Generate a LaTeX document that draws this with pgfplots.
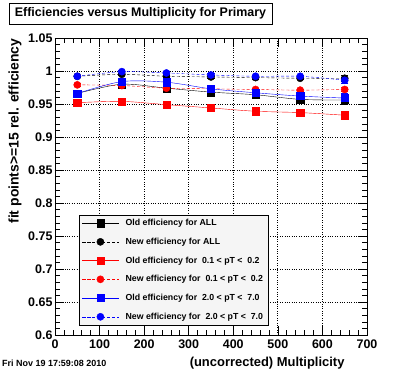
\documentclass[border=0pt]{standalone}
\usepackage{pgfplots}
\pgfplotsset{compat=1.18}
\usepackage{fontspec}
\setmainfont{Liberation Sans}
\begin{document}
\begin{tikzpicture}[x=1bp,y=1bp]
\path[use as bounding box,fill=white] (0,0) rectangle (396,372);
\begin{axis}[
  at={(55bp,37bp)}, anchor=south west,
  scale only axis, width=312bp, height=297bp,
  xmin=0, xmax=700, ymin=0.6, ymax=1.05,
  xtick={0,100,...,700}, ytick={0.6,0.65,...,1.06},
  minor x tick num=4, minor y tick num=4,
  yticklabels={0.6,0.65,0.7,0.75,0.8,0.85,0.9,0.95,1,1.05},
  tick align=inside, ticks=both,
  major tick length=9bp, minor tick length=5bp,
  xtick pos=both, ytick pos=both,
  grid=major, major grid style={black, dotted, line width=0.8pt},
  tick style={black, line width=0.6pt},
  axis line style={line width=0.8pt},
  /pgf/number format/assume math mode=true,
  tick label style={font=\fontsize{12.5}{13}\selectfont\bfseries},
  xticklabel style={yshift=-1bp},
  yticklabel style={xshift=1bp},
  legend cell align=left,
  legend style={at={(0.077,0.034)}, anchor=south west, draw=black, fill=gray!8,
    font=\fontsize{8.8}{9}\selectfont\bfseries, row sep=6.9bp, inner xsep=3bp, inner ysep=2bp,
    /tikz/every odd column/.append style={column sep=5bp}},
  legend image code/.code={\draw[mark repeat=2,mark phase=2] plot coordinates {(0bp,0bp)(18bp,0bp)(36bp,0bp)};},
]
\addplot[black, smooth, mark=square*, mark size=3.6bp, mark options={solid}, error bars/.cd, y dir=both, y explicit]
 coordinates {(50,0.966)+-(0,0.002) (150,0.980)+-(0,0.002) (250,0.974)+-(0,0.002) (350,0.968)+-(0,0.002) (450,0.964)+-(0,0.002) (550,0.957)+-(0,0.002) (650,0.956)+-(0,0.006)};
\addlegendentry{Old efficiency for ALL}
\addplot[black, densely dashed, smooth, mark=*, mark size=3.6bp, mark options={solid}, error bars/.cd, y dir=both, y explicit]
 coordinates {(50,0.992)+-(0,0.002) (150,0.995)+-(0,0.002) (250,0.992)+-(0,0.002) (350,0.991)+-(0,0.002) (450,0.990)+-(0,0.002) (550,0.989)+-(0,0.002) (650,0.989)+-(0,0.005)};
\addlegendentry{New efficiency for ALL}
\addplot[red, smooth, mark=square*, mark size=3.6bp, mark options={solid}, error bars/.cd, y dir=both, y explicit]
 coordinates {(50,0.952)+-(0,0.002) (150,0.954)+-(0,0.002) (250,0.949)+-(0,0.002) (350,0.944)+-(0,0.002) (450,0.939)+-(0,0.002) (550,0.937)+-(0,0.002) (650,0.933)+-(0,0.004)};
\addlegendentry{Old efficiency for \ 0.1 < pT < \ 0.2}
\addplot[red, densely dashed, smooth, mark=*, mark size=3.6bp, mark options={solid}, error bars/.cd, y dir=both, y explicit]
 coordinates {(50,0.979)+-(0,0.002) (150,0.978)+-(0,0.002) (250,0.974)+-(0,0.002) (350,0.973)+-(0,0.002) (450,0.972)+-(0,0.002) (550,0.971)+-(0,0.002) (650,0.972)+-(0,0.003)};
\addlegendentry{New efficiency for \ 0.1 < pT < \ 0.2}
\addplot[blue, smooth, mark=square*, mark size=3.6bp, mark options={solid}, error bars/.cd, y dir=both, y explicit]
 coordinates {(50,0.966)+-(0,0.002) (150,0.984)+-(0,0.002) (250,0.983)+-(0,0.002) (350,0.973)+-(0,0.002) (450,0.967)+-(0,0.002) (550,0.962)+-(0,0.002) (650,0.959)+-(0,0.007)};
\addlegendentry{Old efficiency for \ 2.0 < pT < \ 7.0}
\addplot[blue, densely dashed, smooth, mark=*, mark size=3.6bp, mark options={solid}, error bars/.cd, y dir=both, y explicit]
 coordinates {(50,0.992)+-(0,0.002) (150,0.999)+-(0,0.002) (250,0.997)+-(0,0.002) (350,0.994)+-(0,0.002) (450,0.992)+-(0,0.002) (550,0.992)+-(0,0.002) (650,0.986)+-(0,0.004)};
\addlegendentry{New efficiency for \ 2.0 < pT < \ 7.0}
\end{axis}
\node[draw=black, fill=white, line width=0.8pt, minimum width=263bp, minimum height=21bp, inner sep=0pt, font=\fontsize{12.5}{13}\selectfont\bfseries] at (140.5,358.5) {Efficiencies versus Multiplicity for Primary};
\node[rotate=90, anchor=east, font=\fontsize{14}{15}\selectfont\bfseries] at (15,337) {fit points>=15 rel. efficiency};
\node[anchor=east, font=\fontsize{13}{14}\selectfont\bfseries] at (348,9) {(uncorrected) Multiplicity};
\node[anchor=west, font=\fontsize{9}{9}\selectfont\bfseries, inner sep=0pt] at (2,9) {Fri Nov 19 17:59:08 2010};
\end{tikzpicture}
\end{document}
